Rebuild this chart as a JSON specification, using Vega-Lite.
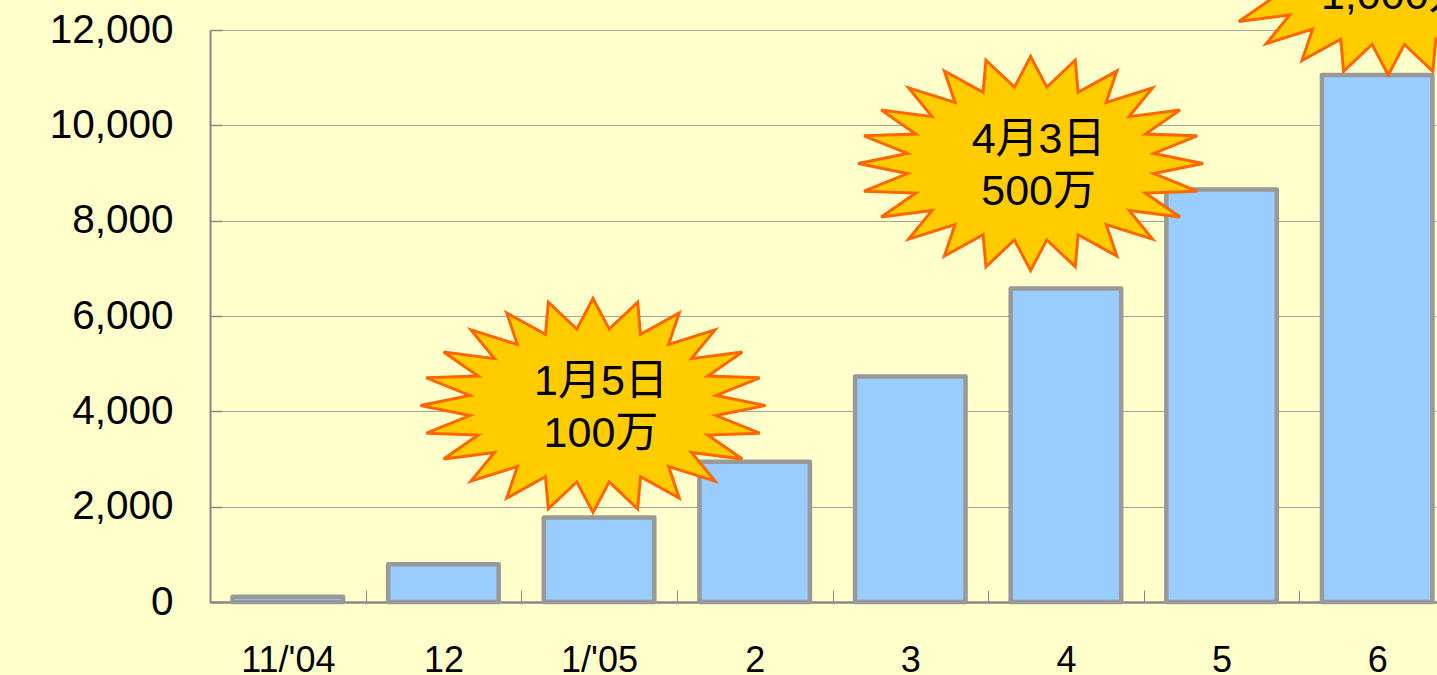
{
  "$schema": "https://vega.github.io/schema/vega-lite/v6.json",
  "width": 1227,
  "height": 572,
  "autosize": {"type": "none"},
  "padding": {"left": 210, "top": 30, "right": 0, "bottom": 73},
  "background": "#FFFFCC",
  "config": {"view": {"stroke": null}, "font": "Liberation Sans, Noto Sans CJK JP, sans-serif"},
  "datasets": {
    "bars": [
      {"month": "11/'04", "users": 109},
      {"month": "12", "users": 793},
      {"month": "1/'05", "users": 1773},
      {"month": "2", "users": 2941},
      {"month": "3", "users": 4731},
      {"month": "4", "users": 6577},
      {"month": "5", "users": 8654},
      {"month": "6", "users": 11056}
    ],
    "stars": [
      {"pos": 2.461, "y": 4122, "label": "1月5日\n100万"},
      {"pos": 5.273, "y": 9199, "label": "4月3日\n500万"},
      {"pos": 7.571, "y": 13300, "label": "6月\n1,000万"}
    ]
  },
  "layer": [
    {
      "data": {"name": "bars"},
      "mark": {"type": "bar", "fill": "#99CCFF", "stroke": "#999999", "strokeWidth": 4.5, "strokeJoin": "round"},
      "encoding": {
        "x": {
          "field": "month", "type": "nominal", "sort": null,
          "scale": {"range": [0, 1245], "paddingInner": 0.29, "paddingOuter": 0.145},
          "axis": {"title": null, "labelAngle": 0, "labelFontSize": 36, "labelColor": "#000000", "domainColor": "#888888", "domainWidth": 2.5, "tickColor": "#888888", "tickSize": -12, "tickWidth": 1, "tickOffset": -77.8, "labelOffset": 77.8, "labelPadding": 53}
        },
        "y": {
          "field": "users", "type": "quantitative",
          "scale": {"domain": [0, 12000], "nice": false},
          "axis": {"title": null, "values": [0, 2000, 4000, 6000, 8000, 10000, 12000], "format": ",d", "labelFontSize": 40.5, "labelColor": "#000000", "domainColor": "#888888", "domainWidth": 2, "tickColor": "#888888", "tickSize": -12, "tickWidth": 1.5, "labelPadding": 49, "grid": true, "gridColor": "#A6A6A6", "gridWidth": 1}
        }
      }
    },
    {
      "mark": {"type": "rule", "stroke": "#888888", "strokeWidth": 2},
      "encoding": {"y": {"datum": 12000, "type": "quantitative"}}
    },
    {
      "data": {"name": "stars"},
      "mark": {"type": "point", "shape": "M0,-0.62L0.094,-0.4426L0.2588,-0.5989L0.2755,-0.4124L0.5,-0.5369L0.4383,-0.3541L0.7071,-0.4384L0.5712,-0.2718L0.866,-0.31L0.6652,-0.1708L0.9659,-0.1605L0.7138,-0.0583L1,0L0.7138,0.0583L0.9659,0.1605L0.6652,0.1708L0.866,0.31L0.5712,0.2718L0.7071,0.4384L0.4383,0.3541L0.5,0.5369L0.2755,0.4124L0.2588,0.5989L0.094,0.4426L0,0.62L-0.094,0.4426L-0.2588,0.5989L-0.2755,0.4124L-0.5,0.5369L-0.4383,0.3541L-0.7071,0.4384L-0.5712,0.2718L-0.866,0.31L-0.6652,0.1708L-0.9659,0.1605L-0.7138,0.0583L-1,0L-0.7138,-0.0583L-0.9659,-0.1605L-0.6652,-0.1708L-0.866,-0.31L-0.5712,-0.2718L-0.7071,-0.4384L-0.4383,-0.3541L-0.5,-0.5369L-0.2755,-0.4124L-0.2588,-0.5989L-0.094,-0.4426Z", "filled": true, "fill": "#FFCC00", "stroke": "#FF6600", "strokeWidth": 3, "strokeJoin": "miter", "size": 119025, "opacity": 1},
      "encoding": {
        "x": {"field": "pos", "type": "quantitative", "scale": {"domain": [0, 8], "range": [0, 1245]}, "axis": null},
        "y": {"field": "y", "type": "quantitative", "scale": {"domain": [0, 12000], "nice": false}}
      }
    },
    {
      "data": {"name": "stars"},
      "mark": {"type": "text", "lineBreak": "\n", "fontSize": 43, "lineHeight": 52, "dx": 8, "dy": -24, "baseline": "middle", "align": "center", "color": "#000000"},
      "encoding": {
        "x": {"field": "pos", "type": "quantitative", "scale": {"domain": [0, 8], "range": [0, 1245]}, "axis": null},
        "y": {"field": "y", "type": "quantitative", "scale": {"domain": [0, 12000], "nice": false}},
        "text": {"field": "label"}
      }
    }
  ],
  "resolve": {"scale": {"x": "independent"}}
}
